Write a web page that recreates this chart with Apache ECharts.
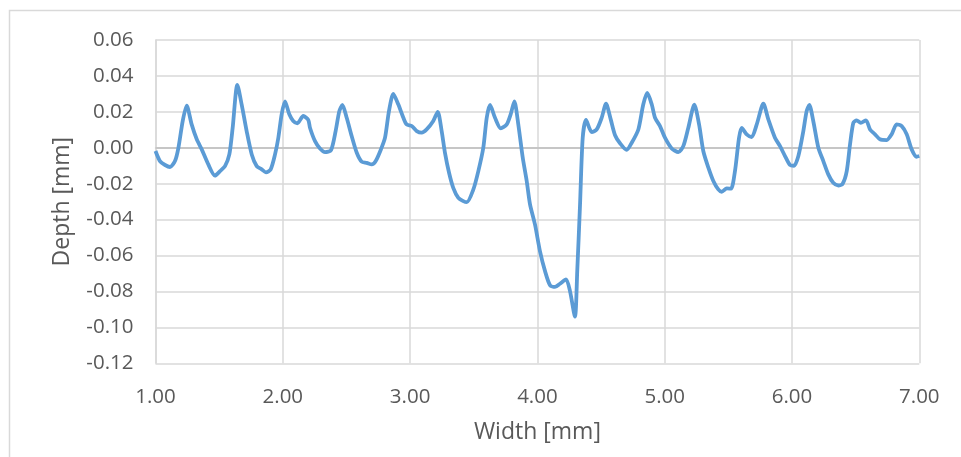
<!DOCTYPE html>
<html>
<head>
<meta charset="utf-8">
<script src="https://cdn.jsdelivr.net/npm/echarts@6/dist/echarts.min.js"></script>
<style>
  html, body { margin: 0; padding: 0; background: #fff; }
  #chart { width: 961px; height: 457px; }
</style>
</head>
<body>
<div id="chart"></div>
<script>
// Surface profile: position across the sample (mm) and measured depth (mm)
const widthMm = [
  1.000, 1.035, 1.075, 1.114, 1.153, 1.180, 1.214, 1.245, 1.284, 1.324,
  1.363, 1.415, 1.467, 1.507, 1.546, 1.580, 1.606, 1.643, 1.677, 1.716,
  1.756, 1.795, 1.834, 1.868, 1.905, 1.939, 1.965, 1.991, 2.017, 2.051,
  2.082, 2.114, 2.161, 2.200, 2.214, 2.253, 2.292, 2.332, 2.379, 2.415,
  2.444, 2.468, 2.502, 2.541, 2.581, 2.620, 2.659, 2.698, 2.730, 2.771,
  2.803, 2.834, 2.868, 2.907, 2.947, 2.973, 3.013, 3.052, 3.091, 3.130,
  3.182, 3.217, 3.248, 3.274, 3.306, 3.339, 3.379, 3.418, 3.445, 3.497,
  3.536, 3.575, 3.602, 3.628, 3.667, 3.712, 3.759, 3.790, 3.819, 3.850,
  3.885, 3.916, 3.942, 3.981, 4.020, 4.060, 4.099, 4.138, 4.177, 4.225,
  4.256, 4.295, 4.313, 4.335, 4.356, 4.382, 4.427, 4.466, 4.505, 4.539,
  4.576, 4.610, 4.649, 4.701, 4.741, 4.793, 4.832, 4.863, 4.898, 4.924,
  4.963, 5.002, 5.055, 5.107, 5.146, 5.185, 5.233, 5.270, 5.303, 5.343,
  5.382, 5.421, 5.448, 5.487, 5.521, 5.552, 5.584, 5.605, 5.644, 5.683,
  5.723, 5.775, 5.814, 5.866, 5.906, 5.945, 5.984, 6.016, 6.050, 6.089,
  6.115, 6.136, 6.167, 6.207, 6.246, 6.285, 6.324, 6.364, 6.398, 6.430,
  6.456, 6.482, 6.508, 6.540, 6.581, 6.613, 6.652, 6.691, 6.744, 6.783,
  6.822, 6.862, 6.901, 6.940, 6.979, 7.000
];
const depthMm = [
  -0.0018, -0.0074, -0.0096, -0.0107, -0.0074, 0.0000, 0.0150, 0.0235, 0.0130, 0.0047,
  -0.0009, -0.0093, -0.0155, -0.0130, -0.0102, -0.0037, 0.0110, 0.0350, 0.0240, 0.0093,
  -0.0037, -0.0102, -0.0120, -0.0137, -0.0120, -0.0037, 0.0056, 0.0186, 0.0258, 0.0186,
  0.0149, 0.0136, 0.0177, 0.0155, 0.0110, 0.0037, -0.0004, -0.0024, -0.0013, 0.0093,
  0.0204, 0.0238, 0.0167, 0.0065, -0.0028, -0.0078, -0.0084, -0.0093, -0.0074, -0.0009,
  0.0056, 0.0204, 0.0300, 0.0242, 0.0167, 0.0130, 0.0121, 0.0093, 0.0084, 0.0102,
  0.0149, 0.0200, 0.0093, -0.0028, -0.0139, -0.0223, -0.0279, -0.0297, -0.0303, -0.0232,
  -0.0130, 0.0000, 0.0167, 0.0238, 0.0167, 0.0108, 0.0130, 0.0186, 0.0258, 0.0130,
  -0.0056, -0.0185, -0.0315, -0.0427, -0.0575, -0.0687, -0.0765, -0.0775, -0.0757, -0.0733,
  -0.0798, -0.0940, -0.0687, -0.0315, 0.0056, 0.0155, 0.0087, 0.0102, 0.0167, 0.0245,
  0.0158, 0.0070, 0.0025, -0.0012, 0.0028, 0.0102, 0.0242, 0.0305, 0.0242, 0.0167,
  0.0121, 0.0056, -0.0004, -0.0024, 0.0009, 0.0110, 0.0240, 0.0130, -0.0018, -0.0111,
  -0.0185, -0.0232, -0.0245, -0.0226, -0.0228, -0.0130, 0.0056, 0.0110, 0.0075, 0.0060,
  0.0130, 0.0245, 0.0158, 0.0056, 0.0009, -0.0046, -0.0096, -0.0100, -0.0046, 0.0093,
  0.0204, 0.0238, 0.0149, 0.0000, -0.0074, -0.0148, -0.0195, -0.0210, -0.0200, -0.0130,
  0.0019, 0.0139, 0.0153, 0.0139, 0.0153, 0.0102, 0.0075, 0.0047, 0.0043, 0.0075,
  0.0130, 0.0121, 0.0075, -0.0009, -0.0050, -0.0046
];
const xTicks = [1, 2, 3, 4, 5, 6, 7];
const yTicks = [-0.12, -0.10, -0.08, -0.06, -0.04, -0.02, 0, 0.02, 0.04, 0.06];

const profile = widthMm.map((w, i) => [w, depthMm[i]]);

const textColor = '#595959';
const gridColor = '#d9d9d9';
const font = '"Open Sans", "Noto Sans", sans-serif';

const chart = echarts.init(document.getElementById('chart'), null, { renderer: 'canvas' });
chart.setOption({
  backgroundColor: '#ffffff',
  animation: false,
  graphic: [{
    type: 'rect',
    shape: { x: 9.5, y: 10.5, width: 1000, height: 500 },
    style: { fill: 'none', stroke: gridColor, lineWidth: 1.5 },
    silent: true,
    z: -10
  }],
  grid: { left: 155.5, right: 41.7, top: 40, bottom: 93.7, containLabel: false },
  xAxis: {
    type: 'value',
    min: xTicks[0],
    max: xTicks[xTicks.length - 1],
    interval: 1,
    name: 'Width [mm]',
    nameLocation: 'middle',
    nameGap: 58,
    nameTextStyle: { color: textColor, fontFamily: font, fontSize: 23 },
    axisLine: { show: true, lineStyle: { color: gridColor, width: 1.5 } },
    axisTick: { show: false },
    axisLabel: {
      color: textColor, fontFamily: font, fontSize: 20.5, margin: 23,
      formatter: v => v.toFixed(2)
    },
    splitLine: { show: true, lineStyle: { color: gridColor, width: 1.5 } }
  },
  yAxis: {
    type: 'value',
    min: yTicks[0],
    max: yTicks[yTicks.length - 1],
    interval: 0.02,
    name: 'Depth [mm]',
    nameLocation: 'middle',
    nameGap: 82,
    nameTextStyle: { color: textColor, fontFamily: font, fontSize: 23 },
    axisLine: { show: true, lineStyle: { color: gridColor, width: 1.5 } },
    axisTick: { show: false },
    axisLabel: {
      color: textColor, fontFamily: font, fontSize: 20.5, margin: 22,
      formatter: v => v.toFixed(2)
    },
    splitLine: { show: true, lineStyle: { color: gridColor, width: 1.5 } }
  },
  series: [{
    type: 'line',
    data: profile,
    smooth: 0.25,
    showSymbol: false,
    lineStyle: { color: '#5b9bd5', width: 3.8 },
    markLine: {
      silent: true,
      symbol: 'none',
      label: { show: false },
      lineStyle: { color: '#bfbfbf', type: 'solid', width: 1.5 },
      data: [{ yAxis: 0 }],
      z: 1
    },
    z: 5
  }]
});
</script>
</body>
</html>
